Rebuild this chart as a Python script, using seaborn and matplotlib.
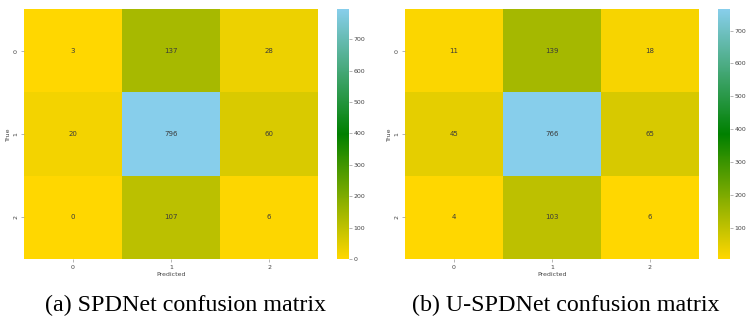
import numpy as np
import matplotlib
matplotlib.use("Agg")
import matplotlib.pyplot as plt
from matplotlib.colors import LinearSegmentedColormap
import seaborn as sns

labels = ["0", "1", "2"]
spdnet = [[3, 137, 28],
          [20, 796, 60],
          [0, 107, 6]]
uspdnet = [[11, 139, 18],
           [45, 766, 65],
           [4, 103, 6]]
captions = ["(a) SPDNet confusion matrix", "(b) U-SPDNet confusion matrix"]

cmap = LinearSegmentedColormap.from_list("gg", ["gold", "green", "skyblue"])

fig = plt.figure(figsize=(7.5, 3.21), dpi=100)
txt = "#444444"
panels = [
    (spdnet, [0.032, 0.193, 0.392, 0.779], [0.449, 0.193, 0.016, 0.779], [0, 100, 200, 300, 400, 500, 600, 700]),
    (uspdnet, [0.540, 0.193, 0.392, 0.779], [0.957, 0.193, 0.016, 0.779], [100, 200, 300, 400, 500, 600, 700]),
]
for i, (mat, axpos, cbpos, cticks) in enumerate(panels):
    ax = fig.add_axes(axpos)
    cax = fig.add_axes(cbpos)
    sns.heatmap(np.array(mat), annot=True, fmt="d", cmap=cmap, ax=ax, cbar_ax=cax,
                xticklabels=labels, yticklabels=labels,
                annot_kws={"fontsize": 5, "color": "#3a3a3a"},
                cbar_kws={"ticks": cticks})
    ax.set_xlabel("Predicted", fontsize=4.5, color=txt, labelpad=1.5)
    ax.set_ylabel("True", fontsize=4.5, color=txt, labelpad=1.5)
    ax.tick_params(labelsize=4.5, colors=txt, length=2, width=0.5, pad=2, color="#999999")
    cax.tick_params(labelsize=4.5, colors=txt, length=2, width=0.5, pad=1.5, color="#999999")
    for s in cax.spines.values():
        s.set_visible(False)
    fig.text([0.247, 0.755][i], 0.031, captions[i], ha="center", va="baseline",
             fontsize=17.3, family="Liberation Serif", color="black")

fig.savefig("out.png", dpi=100)
